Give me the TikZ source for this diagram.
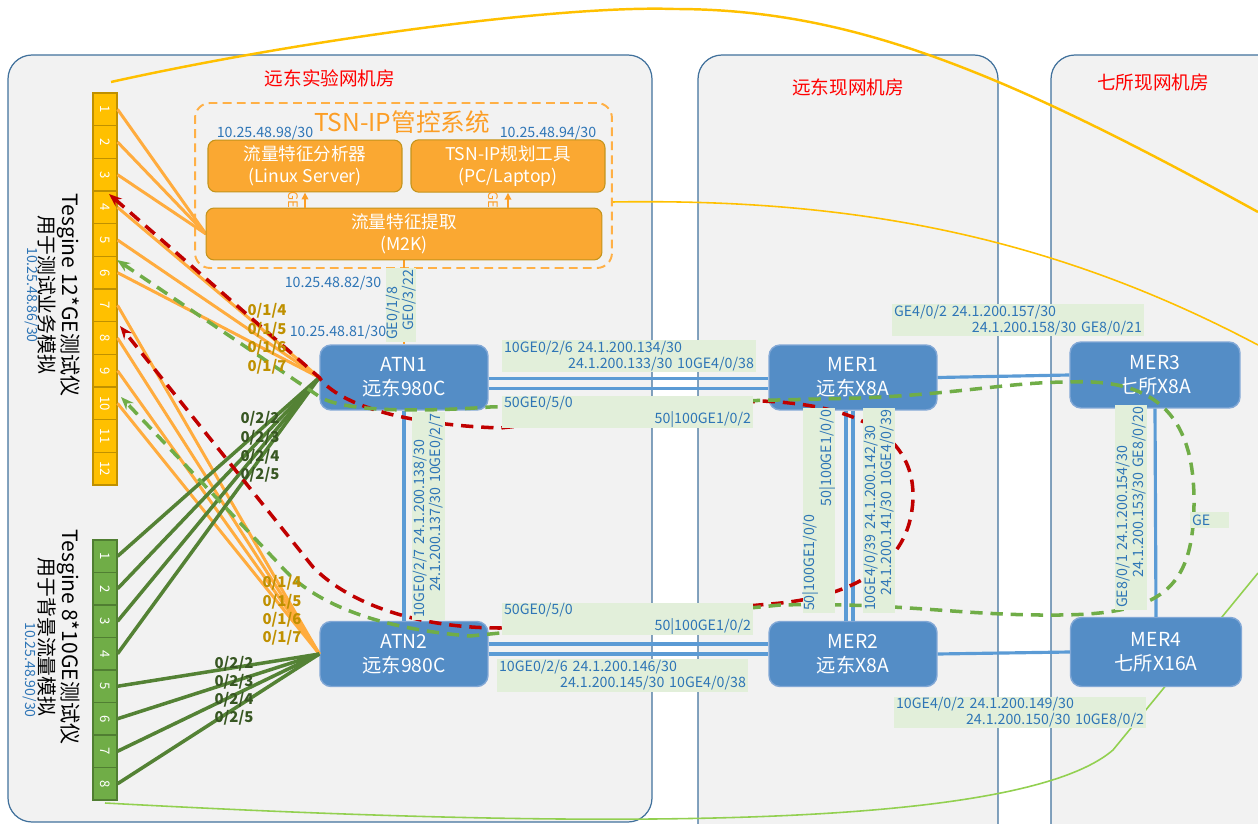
\documentclass[tikz,border=0pt]{standalone}
\usepackage{fontspec}
\setmainfont{Noto Sans CJK SC}
\usepackage{graphicx}
\usetikzlibrary{arrows.meta,calc}
\definecolor{roomfill}{RGB}{242,242,242}
\definecolor{roomline}{RGB}{65,113,156}
\definecolor{devblue}{RGB}{84,141,198}
\definecolor{devline}{RGB}{130,168,214}
\definecolor{linkblue}{RGB}{91,155,213}
\definecolor{lblfill}{RGB}{226,239,218}
\definecolor{lbltext}{RGB}{46,117,182}
\definecolor{tsnorange}{RGB}{250,168,50}
\definecolor{tsnline}{RGB}{196,148,28}
\definecolor{tsndash}{RGB}{255,176,70}
\definecolor{tsntext}{RGB}{252,158,38}
\definecolor{portorange}{RGB}{255,172,62}
\definecolor{geyellow}{RGB}{255,192,0}
\definecolor{geyline}{RGB}{191,144,0}
\definecolor{tengreen}{RGB}{112,173,71}
\definecolor{tenline}{RGB}{80,126,50}
\definecolor{darkgreen}{RGB}{84,130,53}
\definecolor{labgreen}{RGB}{56,87,35}
\definecolor{pathred}{RGB}{192,0,0}
\definecolor{curvegreen}{RGB}{146,208,80}
\newcommand{\lr}[2]{#1\\\hspace*{\fill}#2}

\begin{document}
\begin{tikzpicture}[x=0.02cm,y=-0.02cm,
  room/.style={draw=roomline,fill=roomfill,line width=0.7pt,rounded corners=0.48cm},
  roomtitle/.style={text=red,font=\fontsize{10.6}{12}\selectfont},
  dev/.style={draw=devline,fill=devblue,line width=0.8pt,rounded corners=0.22cm,text=white,
    font=\fontsize{11}{13.5}\selectfont,align=center,minimum width=3.36cm,minimum height=1.3cm},
  tool/.style={draw=tsnline,fill=tsnorange,line width=0.6pt,rounded corners=0.16cm,text=white,
    font=\fontsize{10}{12.5}\selectfont,align=center,minimum width=3.88cm,minimum height=0.96cm},
  cellA/.style={draw=geyline,fill=geyellow,line width=0.6pt,minimum width=0.48cm,minimum height=0.653cm,
    inner sep=0pt,text=white,font=\fontsize{7.5}{8}\selectfont},
  cellB/.style={draw=tenline,fill=tengreen,line width=0.6pt,minimum width=0.48cm,minimum height=0.65cm,
    inner sep=0pt,text=white,font=\fontsize{7.5}{8}\selectfont},
  link/.style={linkblue,line width=1.8pt},
  oline/.style={portorange,line width=1.7pt},
  gline/.style={darkgreen,line width=2pt},
  lbl/.style={fill=lblfill,text=lbltext,font=\fontsize{8.1}{9.2}\selectfont,inner xsep=0.04cm,inner ysep=0pt,align=left},
  ip/.style={text=lbltext,font=\fontsize{8.1}{9.2}\selectfont,inner sep=0pt},
  portA/.style={text=geyline,font=\fontsize{8.5}{10}\selectfont\bfseries,inner sep=0pt},
  portB/.style={text=labgreen,font=\fontsize{8.5}{10}\selectfont\bfseries,inner sep=0pt},
  redpath/.style={pathred,line width=2pt,dash pattern=on 7pt off 4.5pt,
    {Stealth[length=0.26cm,width=0.2cm]}-{Stealth[length=0.26cm,width=0.2cm]}},
  greenpath/.style={tengreen,line width=2pt,dash pattern=on 7pt off 4.5pt,
    {Stealth[length=0.26cm,width=0.2cm]}-{Stealth[length=0.26cm,width=0.2cm]}},
  gearr/.style={tsntext,line width=1.1pt,-{Triangle[length=0.14cm,width=0.13cm]}}
]
  \useasboundingbox (0,0) rectangle (1258,824);
  % Rooms
  \draw[room] (8,55) rectangle (652,822);
  \draw[room] (698,55) rectangle (998,870);
  \draw[room] (1051,55) rectangle (1320,870);
  \node[roomtitle] (labroom) at (330,78) {远东实验网机房};
  \node[roomtitle] (ydroom) at (848,87) {远东现网机房};
  \node[roomtitle] (qsroom) at (1153,82) {七所现网机房};
  % Long curves
  \coordinate (ya) at (111,82);
  \coordinate (yb) at (1258,212);
  \coordinate (yc) at (612,202);
  \coordinate (yd) at (1258,345);
  \coordinate (ga) at (105,803);
  \coordinate (gb) at (1258,573);
  \draw[geyellow,line width=1.4pt] (ya) .. controls (300,40) and (560,5) .. (674,9)
    .. controls (850,9) and (1000,70) .. (yb);
  \draw[geyellow,line width=0.9pt] (yc) .. controls (850,198) and (1050,235) .. (yd);
  \draw[curvegreen,line width=0.9pt] (ga) .. controls (600,830) and (1020,830) .. (1113,750) -- (gb);
  % Testers
  \foreach \i in {1,...,12}
    \node[cellA] (p\i) at (105,{93+(\i-0.5)*32.667}) {\rotatebox{-90}{\i}};
  \foreach \i in {1,...,8}
    \node[cellB] (q\i) at (105,{540+(\i-0.5)*32.5}) {\rotatebox{-90}{\i}};
  \node[rotate=-90,align=center] (tlab1) at (59,295)
    {{\fontsize{12}{15}\selectfont Tesgine 12*GE测试仪}\\{\fontsize{11.3}{15}\selectfont 用于测试业务模拟}};
  \node[ip,rotate=-90,font=\fontsize{8}{9}\selectfont] (tip1) at (32,295) {10.25.48.86/30};
  \node[rotate=-90,align=center] (tlab2) at (59,637)
    {{\fontsize{12}{15}\selectfont Tesgine 8*10GE测试仪}\\{\fontsize{11.3}{15}\selectfont 用于背景流量模拟}};
  \node[ip,rotate=-90,font=\fontsize{8}{9}\selectfont] (tip2) at (30,670) {10.25.48.90/30};
  % Devices
  \node[dev] (atn1) at (404,377.5) {ATN1\\远东980C};
  \node[dev] (atn2) at (404,654) {ATN2\\远东980C};
  \node[dev] (mer1) at (853,377.5) {MER1\\远东X8A};
  \node[dev] (mer2) at (853,654) {MER2\\远东X8A};
  \node[dev,minimum width=3.4cm,minimum height=1.32cm] (mer3) at (1155,375) {MER3\\七所X8A};
  \node[dev,minimum width=3.42cm,minimum height=1.38cm] (mer4) at (1156,652) {MER4\\七所X16A};
  % TSN-IP system
  \node[draw=tsndash,dashed,line width=1.1pt,dash pattern=on 5pt off 3pt,rounded corners=0.3cm,
    minimum width=8.34cm,minimum height=3.3cm] (tsn) at (403.5,185.5) {};
  \node[text=tsntext,font=\fontsize{14}{16}\selectfont] (tsntitle) at (402,122) {TSN-IP管控系统};
  \draw[tsntext,line width=1.1pt] (404,258) -- (atn1.north);
  % Tester links
  \foreach \i in {1,2,3} \draw[oline] (p\i.east) -- (206,234);
  \foreach \i in {4,5,6} \draw[oline] (p\i.east) -- (atn1.west);
  \foreach \i in {7,...,10} \draw[oline] (p\i.east) -- (atn2.west);
  \foreach \i in {1,...,4} \draw[gline] (q\i.east) -- (atn1.west);
  \foreach \i in {5,...,8} \draw[gline] (q\i.east) -- (atn2.west);
  \node[tool] (ana) at (305,166) {流量特征分析器\\(Linux Server)};
  \node[tool] (plan) at (508,166) {TSN-IP规划工具\\(PC/Laptop)};
  \node[tool,minimum width=7.92cm] (m2k) at (404,234) {流量特征提取\\(M2K)};
  \node[ip] (ipana) at (265,133) {10.25.48.98/30};
  \node[ip] (ipplan) at (548,133) {10.25.48.94/30};
  \draw[gearr] (m2k.north -| ana.south) -- (ana.south);
  \draw[gearr] (m2k.north -| plan.south) -- (plan.south);
  \node[text=tsntext,font=\fontsize{7.5}{8}\selectfont,rotate=-90,inner sep=0pt] (gea) at (293,200) {GE};
  \node[text=tsntext,font=\fontsize{7.5}{8}\selectfont,rotate=-90,inner sep=0pt] (geb) at (493,200) {GE};
  % Network links
  \draw[link] ($(atn1.east)+(0,1)$) -- ($(mer1.west)+(0,1)$);
  \draw[link] ($(atn1.east)+(0,11)$) -- ($(mer1.west)+(0,11)$);
  \draw[link] ($(atn2.east)+(0,-10)$) -- ($(mer2.west)+(0,-10)$);
  \draw[link] (atn2.east) -- (mer2.west);
  \draw[link] (atn1.south) -- (atn2.north);
  \draw[link] ($(mer1.south)+(-7,0)$) -- ($(mer2.north)+(-7,0)$);
  \draw[link] (mer1.south) -- (mer2.north);
  \draw[link] (mer1.east) -- (mer3.west);
  \draw[link] (mer2.east) -- (mer4.west);
  \draw[link] (mer3.south) -- (mer4.north);
  % Service paths
  \coordinate (rt1) at (109,194);
  \coordinate (rt2) at (120,326);
  \coordinate (gt1) at (117,260);
  \coordinate (gt2) at (121,397);
  \draw[redpath] (rt1) -- (atn1.west) .. controls (335,400) and (390,424) .. (500,428) -- (760,401)
    .. controls (880,405) and (913,450) .. (913,495) .. controls (913,560) and (860,597) .. (770,604)
    -- (500,628) .. controls (420,628) and (350,605) .. (313,567) -- (rt2);
  \draw[greenpath] (gt1) -- (320,397) .. controls (345,412) and (420,412) .. (490,407) -- (860,398)
    .. controls (960,394) and (1010,382) .. (1070,382) .. controls (1160,378) and (1195,420) .. (1194,505)
    .. controls (1193,590) and (1160,614) .. (1060,615) .. controls (960,616) and (900,602) .. (780,605)
    -- (470,636) .. controls (370,628) and (310,600) .. (280,565) -- (gt2);
  % Link labels
  \node[lbl,text width=5.0cm,minimum height=0.64cm] (l1) at (629,356)
    {\lr{10GE0/2/6 24.1.200.134/30}{24.1.200.133/30 10GE4/0/38}};
  \node[lbl,text width=4.94cm,minimum height=0.64cm] (l2) at (627.5,412) {\lr{50GE0/5/0}{50|100GE1/0/2}};
  \node[lbl,text width=4.94cm,minimum height=0.64cm] (l3) at (627.5,619) {\lr{50GE0/5/0}{50|100GE1/0/2}};
  \node[lbl,text width=4.94cm,minimum height=0.66cm] (l4) at (622.5,675.5)
    {\lr{10GE0/2/6 24.1.200.146/30}{24.1.200.145/30 10GE4/0/38}};
  \node[lbl,text width=4.96cm,minimum height=0.64cm] (l5) at (1018,320)
    {\lr{GE4/0/2 24.1.200.157/30}{24.1.200.158/30 GE8/0/21}};
  \node[lbl,text width=4.96cm,minimum height=0.62cm] (l6) at (1020,712.5)
    {\lr{10GE4/0/2 24.1.200.149/30}{24.1.200.150/30 10GE8/0/2}};
  \node[lbl,rotate=90,text width=4.08cm,minimum height=0.66cm] (l7) at (428.5,516)
    {\lr{10GE0/2/7 24.1.200.138/30}{24.1.200.137/30 10GE0/2/7}};
  \node[lbl,rotate=90,text width=4.02cm,minimum height=0.64cm] (l8) at (819,510.5)
    {\lr{50|100GE1/0/0}{50|100GE1/0/0}};
  \node[lbl,rotate=90,text width=4.02cm,minimum height=0.64cm] (l9) at (879,510.5)
    {\lr{10GE4/0/39 24.1.200.142/30}{24.1.200.141/30 10GE4/0/39}};
  \node[lbl,rotate=90,text width=4.02cm,minimum height=0.64cm] (l10) at (1131,507.5)
    {\lr{GE8/0/1 24.1.200.154/30}{24.1.200.153/30 GE8/0/20}};
  \node[lbl,text width=0.70cm,minimum height=0.32cm] (l11) at (1209.5,520) {GE};
  \node[lbl,rotate=90,text width=1.40cm,minimum height=0.56cm] (l12) at (401,305) {\lr{GE0/1/8}{GE0/3/22}};
  \node[ip] (ipa) at (333,283) {10.25.48.82/30};
  \node[ip] (ipb) at (338,332) {10.25.48.81/30};
  % Port labels
  \foreach \n [count=\k] in {4,5,6,7} {
    \node[portA] (pa\n) at (267,{311+(\k-1)*18.5}) {0/1/\n};
    \node[portA] (pb\n) at (282,{583+(\k-1)*18.3}) {0/1/\n};
  }
  \foreach \n [count=\k] in {2,3,4,5} {
    \node[portB] (qa\n) at (260,{419+(\k-1)*18.7}) {0/2/\n};
    \node[portB] (qb\n) at (234,{664+(\k-1)*18}) {0/2/\n};
  }
\end{tikzpicture}
\end{document}
